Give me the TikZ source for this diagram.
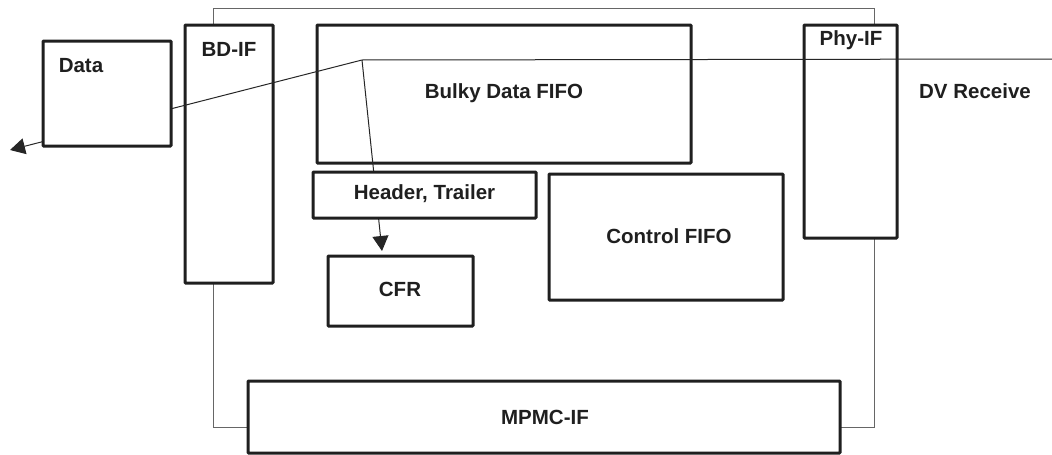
\documentclass[tikz,border=0pt]{standalone}
\usepackage{fontspec}
\setmainfont{Liberation Sans}
\usetikzlibrary{arrows.meta}
\tikzset{
  box/.style={draw=black!88, line width=3pt, fill=white, inner sep=0pt, rounded corners=0.8pt},
  lbl/.style={font=\fontsize{20.5}{24}\selectfont\bfseries, text=black!88, inner sep=0pt},
  thin/.style={draw=black!85, line width=1pt},
  arr/.style={thin, -{Triangle[length=15pt,width=16pt]}}
}
\begin{document}
\begin{tikzpicture}[x=1pt,y=-1pt]
\useasboundingbox (0,0) rectangle (1052,455);
% outer frame
\draw[thin, draw=black!60] (213,8) rectangle (874,427);
% boxes under the lines
\node[box, minimum width=88, minimum height=258] (bdif) at (229,154) {};
\node[box, minimum width=374, minimum height=138] (bulky) at (504,94) {};
\node[box, minimum width=93, minimum height=213] (phyif) at (850.5,131.5) {};
\node[box, minimum width=145, minimum height=70] (cfr) at (400.5,291) {};
\node[box, minimum width=234, minimum height=126] (ctrl) at (666,237) {};
\node[box, minimum width=592, minimum height=72] (mpmc) at (544,417) {};
% connectors
\coordinate (J) at (362,60);
\coordinate (out) at (1052,59);
\coordinate (tipL) at (10,150);
\coordinate (tipD) at (382,251);
\draw[thin] (J) -- (out);
\draw[arr] (J) -- (tipL);
\draw[arr] (J) -- (tipD);
% boxes over the lines
\node[box, minimum width=128, minimum height=105] (data) at (107,93.5) {};
\node[box, minimum width=223, minimum height=46] (hdr) at (424.5,195) {};
% labels
\node[lbl] (tdata) at (81,66) {Data};
\node[lbl] (tbdif) at (229,49) {BD-IF};
\node[lbl] (tbulky) at (504,93) {Bulky Data FIFO};
\node[lbl] (tphy) at (851,40) {Phy-IF};
\node[lbl] (tdv) at (975,91) {DV Receive};
\node[lbl] (thdr) at (424.5,194) {Header, Trailer};
\node[lbl] (tcfr) at (400,289) {CFR};
\node[lbl] (tctrl) at (669,236) {Control FIFO};
\node[lbl] (tmpmc) at (545,417) {MPMC-IF};
\end{tikzpicture}
\end{document}
